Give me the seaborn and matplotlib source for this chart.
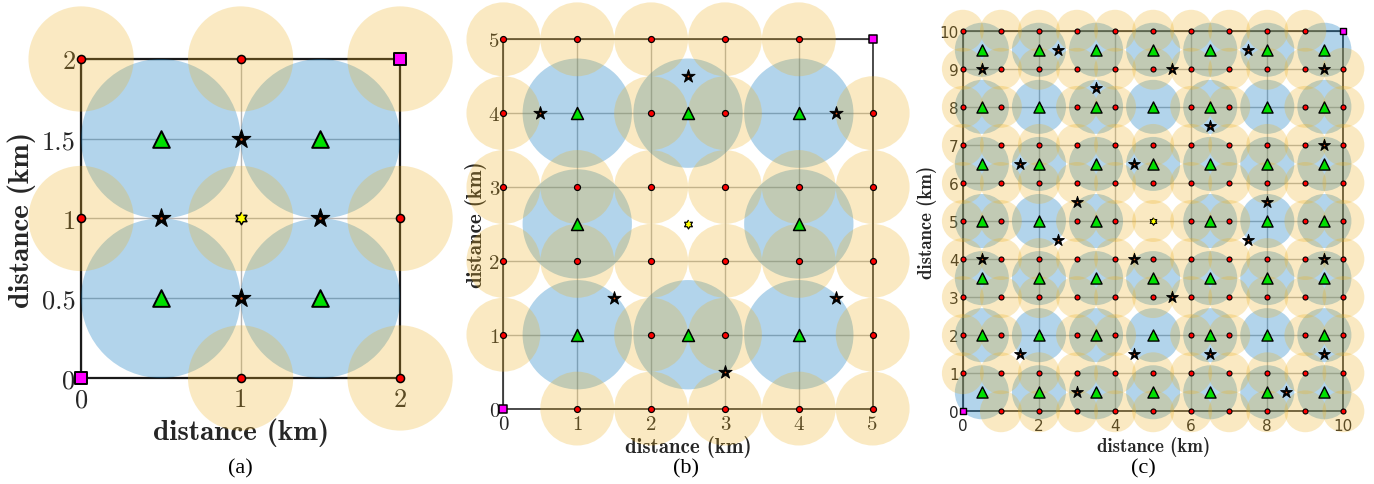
import numpy as np
import matplotlib
matplotlib.use("Agg")
import matplotlib.pyplot as plt
from matplotlib.patches import Circle
import seaborn as sns

# ==============================
# Data
# ==============================
# panel (a): 2 km x 2 km
a_xticks = [0, 1, 2]
a_yticks = [0, 0.5, 1, 1.5, 2]
a_dot_x = [0, 1, 0, 2, 1, 2]
a_dot_y = [2, 2, 1, 1, 0, 0]
a_sq_x = [0, 2]
a_sq_y = [0, 2]
a_tri_x = [0.5, 1.5, 0.5, 1.5]
a_tri_y = [0.5, 0.5, 1.5, 1.5]
a_star_x = [1, 0.5, 1.5, 1]
a_star_y = [1.5, 1, 1, 0.5]
a_hex_x = [1]
a_hex_y = [1]
a_ring_x = [0, 1, 0, 2, 1, 2, 2, 1]
a_ring_y = [2, 2, 1, 1, 0, 0, 2, 1]

# panel (b): 5 km x 5 km
b_ticks = [0, 1, 2, 3, 4, 5]
b_tri_x = [1, 2.5, 4, 1, 4, 1, 2.5, 4]
b_tri_y = [4, 4, 4, 2.5, 2.5, 1, 1, 1]
b_sq_x = [0, 5]
b_sq_y = [0, 5]
b_star_x = [0.5, 2.5, 4.5, 1.5, 4.5, 3]
b_star_y = [4, 4.5, 4, 1.5, 1.5, 0.5]
b_hex_x = [2.5]
b_hex_y = [2.5]

# panel (c): 10 km x 10 km
c_xticks = [0, 2, 4, 6, 8, 10]
c_yticks = [0, 1, 2, 3, 4, 5, 6, 7, 8, 9, 10]
c_grid = [0, 1, 2, 3, 4, 5, 6, 7, 8, 9, 10]
c_tri = [0.5, 2, 3.5, 5, 6.5, 8, 9.5]
c_sq_x = [0, 10]
c_sq_y = [0, 10]
c_star_x = [0.5, 2.5, 5.5, 7.5, 9.5, 3.5, 6.5, 9.5, 1.5, 4.5, 3, 8,
            2.5, 7.5, 0.5, 4.5, 9.5, 5.5, 1.5, 4.5, 6.5, 9.5, 3, 8.5]
c_star_y = [9, 9.5, 9, 9.5, 9, 8.5, 7.5, 7, 6.5, 6.5, 5.5, 5.5,
            4.5, 4.5, 4, 4, 4, 3, 1.5, 1.5, 1.5, 1.5, 0.5, 0.5]
c_hex_x = [5]
c_hex_y = [5]

# derived point sets for (b) and (c)
b_tri_set = set(zip(b_tri_x, b_tri_y))
b_corner = set(zip(b_sq_x, b_sq_y))
b_dots = [(x, y) for y in b_ticks for x in b_ticks
          if (x, y) not in b_tri_set and (x, y) not in b_corner]

c_corner = set(zip(c_sq_x, c_sq_y))
c_tris = [(x, y) for y in c_tri for x in c_tri if (x, y) != (5, 5)]
c_tri_set = set(c_tris)
c_dots = [(x, y) for y in c_grid for x in c_grid if (x, y) not in c_corner]
c_rings = [p for p in c_dots if p not in c_tri_set]

# ==============================
# Style
# ==============================
sns.set_style("white")
ORANGE = "#EDB120"
BLUE = "#0072BD"
INK = "#262626"

hexagram = [(np.cos(np.deg2rad(90 + 30 * k)) * (1 if k % 2 == 0 else 0.577),
             np.sin(np.deg2rad(90 + 30 * k)) * (1 if k % 2 == 0 else 0.577))
            for k in range(12)]


def draw_panel(ax, lim, xticks, yticks, dots, squares, tris, stars, hexes,
               rings, r_ring, cells, r_cell, ms, lw, tick_font, tick_size,
               tick_pad, label_size, xlab_y, ylab_x, spine_lw):
    ax.set_xlim(0, lim)
    ax.set_ylim(0, lim)
    ax.set_aspect("equal")
    ax.set_axisbelow(True)
    ax.grid(True, color="#b4b4b4", lw=1.0)
    for s in ax.spines.values():
        s.set_color("#1a1a1a")
        s.set_linewidth(spine_lw)
        s.set_zorder(2.5)

    for (x, y) in cells:
        ax.add_patch(Circle((x, y), r_cell, fc=BLUE, ec="none", alpha=0.3,
                            zorder=3, clip_on=False))
    for (x, y) in rings:
        ax.add_patch(Circle((x, y), r_ring, fc=ORANGE, ec="none", alpha=0.27,
                            zorder=3.2, clip_on=False))

    common = dict(ax=ax, legend=False, clip_on=False, edgecolor="black")
    sns.scatterplot(x=[p[0] for p in dots], y=[p[1] for p in dots], marker="o",
                    s=ms[0] ** 2, color="red", linewidth=lw * 0.8, zorder=6, **common)
    sns.scatterplot(x=[p[0] for p in tris], y=[p[1] for p in tris], marker="^",
                    s=ms[1] ** 2, color="#00E000", linewidth=lw, zorder=7, **common)
    sns.scatterplot(x=[p[0] for p in stars], y=[p[1] for p in stars], marker="*",
                    s=ms[2] ** 2, color="black", linewidth=lw * 0.6, zorder=7, **common)
    sns.scatterplot(x=[p[0] for p in stars], y=[p[1] for p in stars], marker="o",
                    s=(ms[2] * 0.13) ** 2, color="#D95319", linewidth=0, zorder=8, **common)
    sns.scatterplot(x=[p[0] for p in hexes], y=[p[1] for p in hexes], marker=hexagram,
                    s=ms[4] ** 2, color="yellow", linewidth=lw * 0.8, zorder=8, **common)
    sns.scatterplot(x=[p[0] for p in squares], y=[p[1] for p in squares], marker="s",
                    s=ms[3] ** 2, color="magenta", linewidth=lw, zorder=9, **common)

    ax.set_xticks(xticks)
    ax.set_yticks(yticks)
    ax.set_xticklabels([f"{t:g}" for t in xticks])
    ax.set_yticklabels([f"{t:g}" for t in yticks])
    ax.tick_params(direction="in", length=3, width=0.8, colors=INK,
                   labelsize=tick_size)
    ax.tick_params(axis="x", pad=tick_pad[0])
    ax.tick_params(axis="y", pad=tick_pad[1])
    for lab in ax.get_xticklabels() + ax.get_yticklabels():
        lab.set_fontfamily(tick_font)

    ax.set_xlabel("distance (km)", fontfamily="cmb10", fontsize=label_size,
                  color=INK, va="center")
    ax.set_ylabel("distance (km)", fontfamily="cmb10", fontsize=label_size,
                  color=INK, va="center")
    ax.xaxis.set_label_coords(0.5, xlab_y)
    ax.yaxis.set_label_coords(ylab_x, 0.5)


fig = plt.figure(figsize=(13.74, 4.85), dpi=100)
ax_a = fig.add_axes([0.0590, 0.2186, 0.2322, 0.6577])
ax_b = fig.add_axes([0.3661, 0.1555, 0.2693, 0.7614])
ax_c = fig.add_axes([0.7007, 0.1499, 0.2771, 0.7847])

draw_panel(ax_a, 2, a_xticks, a_yticks,
           list(zip(a_dot_x, a_dot_y)), list(zip(a_sq_x, a_sq_y)),
           list(zip(a_tri_x, a_tri_y)), list(zip(a_star_x, a_star_y)),
           list(zip(a_hex_x, a_hex_y)),
           list(zip(a_ring_x, a_ring_y)), 0.33,
           list(zip(a_tri_x, a_tri_y)), 0.5,
           ms=(5.8, 12, 14, 9, 9), lw=1.4, tick_font="cmr10", tick_size=19,
           tick_pad=(7, 4), label_size=21, xlab_y=-0.169, ylab_x=-0.186, spine_lw=1.6)

draw_panel(ax_b, 5, b_ticks, b_ticks,
           b_dots, list(zip(b_sq_x, b_sq_y)),
           list(zip(b_tri_x, b_tri_y)), list(zip(b_star_x, b_star_y)),
           list(zip(b_hex_x, b_hex_y)),
           b_dots, 0.5,
           list(zip(b_tri_x, b_tri_y)), 0.74,
           ms=(4.3, 8.6, 10, 5.2, 6.5), lw=1.1, tick_font="cmr10", tick_size=15,
           tick_pad=(5, 3), label_size=15, xlab_y=-0.101, ylab_x=-0.075, spine_lw=1.1)

draw_panel(ax_c, 10, c_xticks, c_yticks,
           c_dots, list(zip(c_sq_x, c_sq_y)),
           c_tris, list(zip(c_star_x, c_star_y)),
           list(zip(c_hex_x, c_hex_y)),
           c_rings, 0.55,
           c_tris, 0.71,
           ms=(3.6, 8.0, 9, 4.5, 5.5), lw=1.0, tick_font="DejaVu Sans", tick_size=11,
           tick_pad=(5, 3), label_size=13.5, xlab_y=-0.090, ylab_x=-0.095, spine_lw=1.1)

for x, tag in [(0.1747, "(a)"), (0.4993, "(b)"), (0.8319, "(c)")]:
    fig.text(x, 0.034, tag, ha="center", va="center", fontsize=16,
             fontfamily="Liberation Serif", color="black")

fig.savefig("out.png", dpi=100)
